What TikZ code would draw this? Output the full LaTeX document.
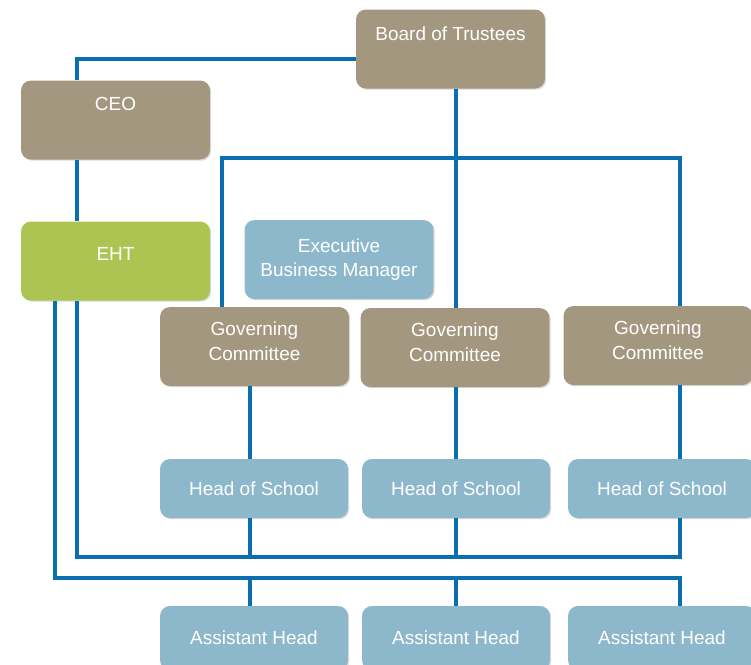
\documentclass[tikz,border=0pt]{standalone}
\usepackage{fontspec}
\setmainfont{Liberation Sans}
\usetikzlibrary{calc, shadows}
\definecolor{taupe}{RGB}{163,151,128}
\definecolor{paleblue}{RGB}{141,184,204}
\definecolor{leaf}{RGB}{173,196,82}
\definecolor{wireblue}{RGB}{11,111,175}
\tikzset{
  orgbox/.style={rounded corners=0.2cm, minimum width=3.78cm, minimum height=1.58cm,
    text=white, align=center, inner sep=0pt, font=\fontsize{10.8}{14}\selectfont,
    drop shadow={shadow xshift=0.7pt, shadow yshift=-0.7pt, opacity=0.3}},
  trustbox/.style={orgbox, fill=taupe},
  staffbox/.style={orgbox, fill=paleblue},
  headbox/.style={staffbox, minimum width=3.76cm, minimum height=1.18cm},
  wire/.style={draw=wireblue, line width=2.2pt}
}

\begin{document}
\begin{tikzpicture}[x=0.02cm, y=-0.02cm]
    \useasboundingbox (0,0) rectangle (751,664);
    \clip (0,0) rectangle (751,664);

    % where the lines run
    \coordinate (col1) at (250,0);
    \coordinate (col2) at (456,0);
    \coordinate (col3) at (680,0);
    \coordinate (spineA) at (77,0);
    \coordinate (spineB) at (55,0);
    \coordinate (gcfeed) at (222,158);
    \coordinate (hosbus) at (0,557);
    \coordinate (ahbus) at (0,578);

    \node[trustbox] (board) at (450.5,49) {Board of Trustees\\[4pt]\mbox{}};
    \node[trustbox] (ceo) at (115.5,120) {CEO\\[4pt]\mbox{}};
    \node[orgbox, fill=leaf] (eht) at (115.5,261) {EHT\\[-5.8pt]\mbox{}};
    \node[staffbox] (ebm) at (339,259.5) {Executive\\Business Manager};

    \node[trustbox] (gc1) at (254.5,346.5) {Governing\\Committee\\[-8pt]\mbox{}};
    \node[trustbox] (gc2) at (455,347.5) {Governing\\Committee\\[-8pt]\mbox{}};
    \node[trustbox] (gc3) at (658,345.5) {Governing\\Committee\\[-8pt]\mbox{}};

    \node[headbox] (hos1) at (254,488.5) {Head of School};
    \node[headbox] (hos2) at (456,488.5) {Head of School};
    \node[headbox] (hos3) at (662,488.5) {Head of School};

    \node[headbox, minimum height=1.28cm] (ah1) at (254,638) {Assistant Head};
    \node[headbox, minimum height=1.28cm] (ah2) at (456,638) {Assistant Head};
    \node[headbox, minimum height=1.28cm] (ah3) at (662,638) {Assistant Head};

    % top of the tree
    \draw[wire] ([yshift=-0.2cm]board.west) -| (ceo.north -| spineA);
    \draw[wire] (ceo.south -| spineA) -- (eht.north -| spineA);
    \draw[wire] (board.south -| col2) -- (gc2.north -| col2);
    \draw[wire] (gc1.north -| gcfeed) -- (gcfeed) -| (gc3.north -| col3);

    % committees to heads
    \draw[wire] (gc1.south -| col1) -- (hos1.north -| col1);
    \draw[wire] (gc2.south -| col2) -- (hos2.north -| col2);
    \draw[wire] (gc3.south -| col3) -- (hos3.north -| col3);

    % EHT to heads
    \draw[wire] (eht.south -| spineA) |- (hosbus -| col3) -- (hos3.south -| col3);
    \draw[wire] (hos1.south -| col1) -- (hosbus -| col1);
    \draw[wire] (hos2.south -| col2) -- (hosbus -| col2);

    % EHT to assistant heads
    \draw[wire] (eht.south -| spineB) |- (ahbus -| col3) -- (ah3.north -| col3);
    \draw[wire] (ahbus -| col1) -- (ah1.north -| col1);
    \draw[wire] (ahbus -| col2) -- (ah2.north -| col2);
\end{tikzpicture}
\end{document}
